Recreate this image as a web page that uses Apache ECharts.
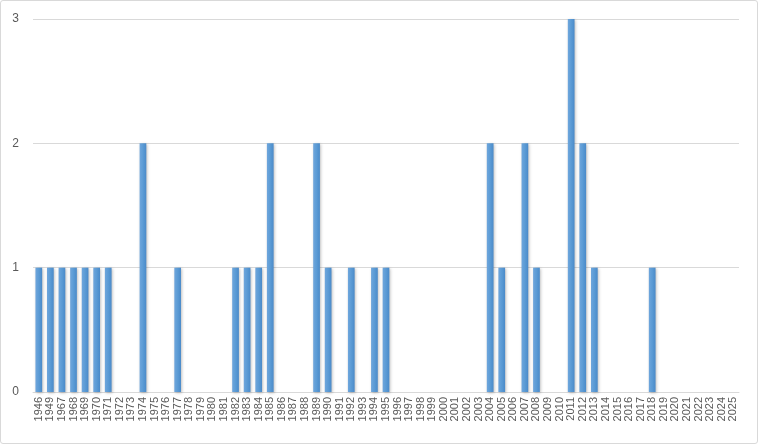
<!DOCTYPE html>
<html><head><meta charset="utf-8">
<script src="https://cdn.jsdelivr.net/npm/echarts@6/dist/echarts.min.js"></script>
<style>html,body{margin:0;padding:0;background:#fff}#c{width:758px;height:444px;box-sizing:border-box;border:1px solid #d9d9d9;border-radius:3px}</style>
</head><body><div id="c"></div>
<script>
const years = ['1946','1949','1967','1968','1969','1970','1971','1972','1973','1974','1975','1976','1977','1978','1979','1980','1981','1982','1983','1984','1985','1986','1987','1988','1989','1990','1991','1992','1993','1994','1995','1996','1997','1998','1999','2000','2001','2002','2003','2004','2005','2006','2007','2008','2009','2010','2011','2012','2013','2014','2015','2016','2017','2018','2019','2020','2021','2022','2023','2024','2025'];
const counts = [1,1,1,1,1,1,1,0,0,2,0,0,1,0,0,0,0,1,1,1,2,0,0,0,2,1,0,1,0,1,1,0,0,0,0,0,0,0,0,2,1,0,2,1,0,0,3,2,1,0,0,0,0,1,0,0,0,0,0,0,0];
const chart = echarts.init(document.getElementById('c'));
chart.setOption({
  animation:false,
  grid:{left:32,right:18,top:18,bottom:51},
  xAxis:{type:'category',data:years,
    axisLine:{lineStyle:{color:'#d9d9d9'}},axisTick:{show:false},
    axisLabel:{rotate:90,interval:0,color:'#595959',fontFamily:'Liberation Sans, Arial',fontSize:11,margin:5}},
  yAxis:{type:'value',min:0,max:3,interval:1,
    axisLabel:{color:'#595959',fontFamily:'Liberation Sans, Arial',fontSize:12,margin:14},
    splitLine:{lineStyle:{color:'#d9d9d9'}}},
  series:[{type:'bar',data:counts,barWidth:'58%',
    itemStyle:{color:new echarts.graphic.LinearGradient(0,0,1,0,[{offset:0,color:'#6fa6dc'},{offset:0.5,color:'#5b9bd5'},{offset:1,color:'#4a8ac9'}]),
      shadowColor:'rgba(0,0,0,0.25)',shadowBlur:3,shadowOffsetX:1,shadowOffsetY:1}}]
});
</script></body></html>
